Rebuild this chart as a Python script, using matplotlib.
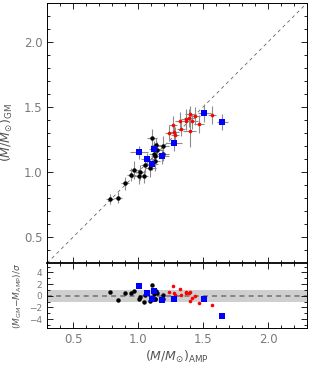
import matplotlib
matplotlib.use("Agg")
import matplotlib.pyplot as plt
from matplotlib.ticker import MultipleLocator
import numpy as np

# ---- data ----
blk_x = [0.787, 0.846, 0.897, 0.946, 0.967, 1.005, 1.013, 1.044, 1.056, 1.095,
         1.108, 1.126, 1.133, 1.138, 1.133, 1.146, 1.195, 1.195]
blk_y = [0.795, 0.803, 0.915, 0.979, 1.018, 0.967, 0.997, 0.967, 1.056, 1.031,
         1.262, 1.141, 1.121, 1.205, 1.082, 1.172, 1.197, 1.138]
blk_xe = [0.03, 0.03, 0.03, 0.035, 0.04, 0.035, 0.04, 0.03, 0.035, 0.04,
          0.04, 0.04, 0.03, 0.04, 0.035, 0.04, 0.04, 0.04]
blk_ye = [0.04, 0.04, 0.05, 0.05, 0.07, 0.06, 0.06, 0.05, 0.06, 0.07,
          0.07, 0.06, 0.06, 0.06, 0.07, 0.06, 0.08, 0.05]
blk_r = [0.6, -0.8, 0.5, 0.5, 0.8, -0.5, -0.3, -1.1, 0.1, -0.9,
         1.8, 0.3, -0.6, 0.8, -0.6, 0.5, 0.2, -0.6]

blu_x = [1.008, 1.069, 1.110, 1.126, 1.187, 1.277, 1.508, 1.649]
blu_y = [1.151, 1.100, 1.064, 1.179, 1.121, 1.221, 1.451, 1.387]
blu_xe = [0.07, 0.05, 0.04, 0.04, 0.05, 0.06, 0.05, 0.04]
blu_ye = [0.05, 0.05, 0.05, 0.06, 0.06, 0.06, 0.07, 0.06]
blu_r = [1.7, 0.5, -0.5, 0.8, -0.8, -0.6, -0.6, -3.4]

red_x = [1.238, 1.267, 1.277, 1.282, 1.326, 1.328, 1.367, 1.369, 1.395, 1.403,
         1.397, 1.418, 1.438, 1.469, 1.567]
red_y = [1.300, 1.359, 1.308, 1.287, 1.390, 1.331, 1.390, 1.408, 1.415, 1.449,
         1.313, 1.390, 1.428, 1.367, 1.441]
red_xe = [0.03, 0.03, 0.04, 0.03, 0.04, 0.03, 0.04, 0.04, 0.04, 0.04,
          0.05, 0.04, 0.04, 0.04, 0.03]
red_ye = [0.06, 0.07, 0.06, 0.06, 0.07, 0.05, 0.07, 0.08, 0.07, 0.06,
          0.12, 0.06, 0.07, 0.07, 0.07]
red_r = [0.7, 1.7, 0.5, 0.1, 1.1, 0.2, 0.4, 0.6, 0.4, 0.7,
         -0.9, -0.35, -0.05, -1.2, -1.6]

xlim = (0.3, 2.3)
ylim = (0.3, 2.3)
rlim = (-5.6, 5.6)

plt.rcParams['font.family'] = ['DejaVu Sans']
plt.rcParams['mathtext.fontset'] = 'dejavusans'

fig = plt.figure(figsize=(3.12, 3.67), dpi=100)
L, R = 0.151, 0.984
ax = fig.add_axes([L, 0.283, R - L, 0.992 - 0.283])
axr = fig.add_axes([L, 0.1054, R - L, 0.283 - 0.1054], sharex=ax)

tcol = '#7a7a7a'
lcol = '#555555'
ecol = '#8c8c8c'
ms_b, ms_r, ms_s = 3.2, 2.6, 3.7

ax.plot(xlim, xlim, ls=(0, (4, 4)), color='#666666', lw=0.6, zorder=1)
for xs, ys, xe, ye, kw in [
        (blk_x, blk_y, blk_xe, blk_ye, dict(fmt='o', color='black', ms=ms_b)),
        (red_x, red_y, red_xe, red_ye, dict(fmt='o', color='red', ms=ms_r)),
        (blu_x, blu_y, blu_xe, blu_ye, dict(fmt='s', color='blue', ms=ms_s))]:
    ax.errorbar(xs, ys, xerr=xe, yerr=ye, ecolor=ecol, elinewidth=0.8,
                capsize=0, mew=0, zorder=3, **kw)

ax.set_xlim(*xlim)
ax.set_ylim(*ylim)
ax.xaxis.set_major_locator(MultipleLocator(0.5))
ax.xaxis.set_minor_locator(MultipleLocator(0.1))
ax.yaxis.set_major_locator(MultipleLocator(0.5))
ax.yaxis.set_minor_locator(MultipleLocator(0.1))
ax.tick_params(axis='x', labelbottom=False)
ax.set_ylabel(r'$(M/M_{\odot})_{\rm GM}$', fontsize=9, color=lcol, labelpad=6)

# residual panel
axr.axhspan(-1, 1, color='#cfcfcf', lw=0, zorder=0)
axr.axhline(0, color='#777777', ls=(0, (3, 2.5)), lw=1.2, zorder=1)
axr.plot(blk_x, blk_r, 'o', color='black', ms=ms_b, mew=0, zorder=3)
axr.plot(red_x, red_r, 'o', color='red', ms=ms_r, mew=0, zorder=3)
axr.plot(blu_x, blu_r, 's', color='blue', ms=ms_s, mew=0, zorder=3)
axr.set_ylim(*rlim)
axr.yaxis.set_major_locator(MultipleLocator(2))
axr.yaxis.set_minor_locator(MultipleLocator(1))
axr.set_xlabel(r'$(M/M_{\odot})_{\rm AMP}$', fontsize=9, color=lcol, labelpad=2)
axr.set_ylabel(r'$(M_{\rm GM}\!-\!M_{\rm AMP})/\sigma$', fontsize=6.5,
               color=lcol, labelpad=4)

for a in (ax, axr):
    a.tick_params(which='both', direction='in', top=True, right=True,
                  colors='black', labelcolor=tcol, width=0.6)
    a.tick_params(which='major', length=4, labelsize=8.5)
    a.tick_params(which='minor', length=2.5)
    for s in a.spines.values():
        s.set_linewidth(0.7)
axr.tick_params(axis='y', labelsize=6.5)
axr.spines['top'].set_linewidth(1.3)

fig.savefig('out.png', dpi=100)
